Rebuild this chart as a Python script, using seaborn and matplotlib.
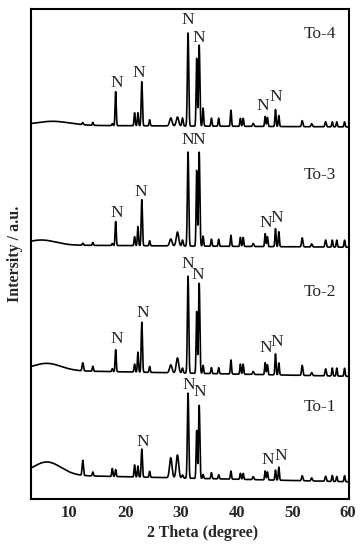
import numpy as np
import pandas as pd
import matplotlib
matplotlib.use("Agg")
import matplotlib.pyplot as plt
import seaborn as sns
from matplotlib.ticker import MultipleLocator

# ---------------- data ----------------
samples = ["To-1", "To-2", "To-3", "To-4"]

peak_pos = [12.4, 14.2, 17.7, 18.3, 21.7, 22.3, 23.0, 24.4, 28.2, 29.4,
            30.3, 31.3, 32.85, 33.3, 34.0, 35.5, 36.8, 39.0, 40.7, 41.2,
            43.0, 45.15, 45.55, 47.0, 47.6, 51.8, 53.5, 56.0, 57.2, 58.0, 59.4]
peak_sigma = [0.12, 0.1, 0.1, 0.1, 0.1, 0.1, 0.11, 0.1, 0.22, 0.22,
              0.12, 0.12, 0.1, 0.12, 0.1, 0.1, 0.1, 0.1, 0.1, 0.1,
              0.12, 0.1, 0.1, 0.1, 0.1, 0.12, 0.12, 0.12, 0.1, 0.1, 0.1]

height_to1 = [15, 4, 8, 7, 12, 11, 28, 6, 20, 23,
              3, 85, 48, 73, 4, 6, 4, 8, 6, 6,
              3, 9, 8, 10, 13, 5, 3, 5, 6, 5, 6]
height_to2 = [8, 5, 3, 22, 8, 20, 50, 6, 8, 15,
              5, 97, 62, 90, 8, 6, 6, 14, 10, 10,
              3, 12, 10, 21, 12, 10, 3, 7, 8, 8, 8]
height_to3 = [2, 3, 2, 24, 9, 19, 46, 5, 7, 14,
              6, 94, 76, 94, 10, 7, 7, 11, 9, 9,
              3, 13, 10, 18, 15, 9, 3, 7, 7, 7, 7]
height_to4 = [2, 3, 2, 34, 13, 13, 44, 6, 8, 9,
              8, 93, 68, 81, 18, 8, 8, 16, 8, 8,
              3, 10, 9, 17, 11, 6, 3, 5, 5, 5, 5]

baseline_offset = [21, 126, 253, 373]
baseline_slope = [-0.125, -0.11, -0.04, -0.03]
hump_height = [13, 7, 5, 4]
hump_center = [6.0, 6.0, 5.0, 7.0]
hump_sigma = [2.5, 2.5, 2.5, 3.0]

# "N" marker annotations (x, y) per sample
n_marks_to1 = [(23.2, 57), (31.5, 114), (33.4, 107), (45.65, 39), (48.0, 43)]
n_marks_to2 = [(18.5, 160), (23.2, 186), (31.3, 235), (33.1, 224), (45.3, 151), (47.3, 157)]
n_marks_to3 = [(18.5, 286), (22.85, 307), (31.3, 359), (33.3, 359), (45.3, 276), (47.3, 281)]
n_marks_to4 = [(18.5, 416), (22.5, 426), (31.3, 479), (33.3, 461), (44.75, 393), (47.1, 402)]
sample_label_y = [92, 207, 324, 465]

xticks = [10, 20, 30, 40, 50, 60]

# ---------------- build long-form table ----------------
two_theta = np.arange(3.0, 60.3, 0.02)
heights = [height_to1, height_to2, height_to3, height_to4]
frames = []
for i, s in enumerate(samples):
    y = (baseline_offset[i] + baseline_slope[i] * (two_theta - 30)
         + hump_height[i] * np.exp(-(two_theta - hump_center[i]) ** 2 / (2 * hump_sigma[i] ** 2)))
    for p, w, h in zip(peak_pos, peak_sigma, heights[i]):
        y = y + h * np.exp(-(two_theta - p) ** 2 / (2 * w ** 2))
    frames.append(pd.DataFrame({"two_theta": two_theta, "intensity": y, "sample": s}))
df = pd.concat(frames, ignore_index=True)

# ---------------- plot ----------------
sns.set_style("white")
plt.rcParams["font.family"] = ["Liberation Serif", "DejaVu Serif"]

fig = plt.figure(figsize=(3.63, 5.5), dpi=100)
ax = fig.add_axes([31 / 363, 1 - 499 / 550, 318 / 363, 490 / 550])

sns.lineplot(data=df, x="two_theta", y="intensity", hue="sample",
             palette=["black"] * 4, legend=False, estimator=None, sort=False,
             linewidth=1.2, ax=ax)

ax.set_xlim(3.1, 60.2)
ax.set_ylim(0, 490)
ax.set_xticks(xticks)
ax.set_xticklabels([str(t) for t in xticks], fontweight="bold", fontsize=12)
ax.xaxis.set_minor_locator(MultipleLocator(5))
ax.tick_params(axis="x", which="major", direction="in", length=5, width=1.3, pad=4)
ax.tick_params(axis="x", which="minor", direction="in", length=3, width=1.3)
ax.set_yticks([])
for sp in ax.spines.values():
    sp.set_visible(True)
    sp.set_linewidth(1.5)
    sp.set_color("black")

ax.set_xlabel("2 Theta (degree)", fontweight="bold", fontsize=11.5, va="center")
ax.xaxis.set_label_coords((203 - 31) / 318, -(533 - 499) / 490)
ax.set_ylabel("Intersity / a.u.", fontweight="bold", fontsize=11.5, va="center")
ax.yaxis.set_label_coords(-(31 - 15) / 318, 0.5)

for marks in [n_marks_to1, n_marks_to2, n_marks_to3, n_marks_to4]:
    for (mx, my) in marks:
        ax.text(mx, my, "N", ha="center", va="center", fontsize=12.5)
for s, ly in zip(samples, sample_label_y):
    ax.text(55.0, ly, s, ha="center", va="center", fontsize=12.5)

fig.savefig("out.png", dpi=100)
